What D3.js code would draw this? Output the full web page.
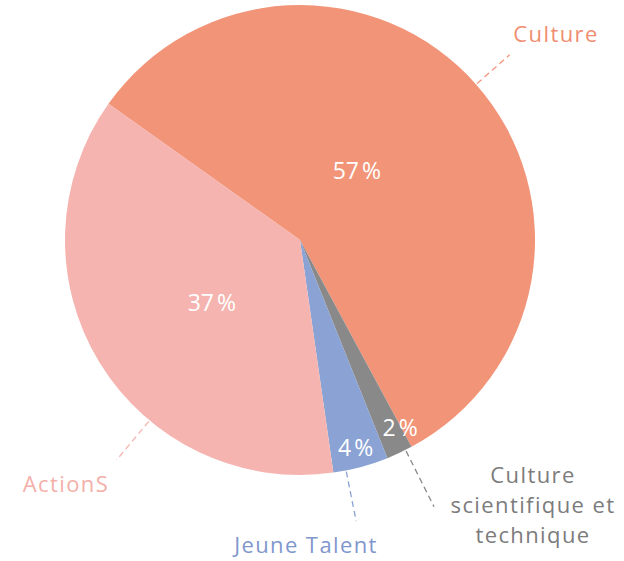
<!DOCTYPE html>
<html>
<head>
<meta charset="utf-8">
<script src="https://cdn.jsdelivr.net/npm/d3@7"></script>
<style>
  html, body { margin: 0; padding: 0; background: #fff; }
  svg { display: block; font-family: "Open Sans", Lato, sans-serif; }
</style>
</head>
<body>
<svg id="chart" width="624" height="561"></svg>
<script>
// data (share of total, %)
const categories = ["Culture", "Culture scientifique et technique", "Jeune Talent", "ActionS"];
const values = [57.3, 1.8, 3.8, 37.1];
const shownLabels = ["57\u202F%", "2\u202F%", "4\u202F%", "37\u202F%"];
const colors = ["#f29478", "#898989", "#8aa2d4", "#f5b4af"];
const textColors = ["#f08e72", "#7c7c7c", "#7f97cd", "#f4afa9"];

const svg = d3.select("#chart");
const cx = 300, cy = 240, r = 235;

const g = svg.append("g").attr("transform", `translate(${cx}, ${cy})`);

const startAngle = -54.6 * Math.PI / 180;
const pie = d3.pie()
    .sort(null)
    .startAngle(startAngle)
    .endAngle(startAngle + 2 * Math.PI)
    .value(d => d);

const arcs = pie(values);
const arc = d3.arc().innerRadius(0).outerRadius(r);

g.selectAll("path.slice")
    .data(arcs)
    .enter().append("path")
    .attr("class", "slice")
    .attr("d", arc)
    .attr("fill", (d, i) => colors[i]);

// percent labels: radius factor and angle nudge (deg) per slice
const pctPlace = [[0.38, -9], [0.905, -3], [0.915, 0], [0.46, -4]];
const polar = (a, rr) => [Math.sin(a) * rr, -Math.cos(a) * rr];
const mid = d => (d.startAngle + d.endAngle) / 2;

g.selectAll("text.pct")
    .data(arcs)
    .enter().append("text")
    .attr("class", "pct")
    .attr("transform", (d, i) => {
        const a = mid(d) + pctPlace[i][1] * Math.PI / 180;
        const [x, y] = polar(a, r * pctPlace[i][0]);
        return `translate(${x}, ${y})`;
    })
    .attr("text-anchor", "middle")
    .attr("dy", "0.36em")
    .attr("fill", "#fff")
    .style("font-size", "23px")
    .style("font-weight", 500)
    .style("letter-spacing", "0.5px")
    .text((d, i) => shownLabels[i]);

// leader lines: angle nudge (deg), outer radius factor
const leadPlace = [[0, 1.19], [-1.6, 1.27], [3.7, 1.22], [-18.8, 1.22]];
g.selectAll("line.lead")
    .data(arcs)
    .enter().append("line")
    .attr("class", "lead")
    .each(function (d, i) {
        const a = mid(d) + leadPlace[i][0] * Math.PI / 180;
        const [x1, y1] = polar(a, r * 1.005);
        const [x2, y2] = polar(a, r * leadPlace[i][1]);
        d3.select(this).attr("x1", x1).attr("y1", y1).attr("x2", x2).attr("y2", y2);
    })
    .attr("stroke", (d, i) => colors[i])
    .attr("stroke-width", 1.3)
    .attr("stroke-dasharray", "6,4");

// category labels
const catPos = [[256, -198], [233, 243], [6, 313], [-234, 252]];
const catLines = [["Culture"], ["Culture", "scientifique et", "technique"], ["Jeune Talent"], ["ActionS"]];
const cat = g.selectAll("text.cat")
    .data(arcs)
    .enter().append("text")
    .attr("class", "cat")
    .attr("text-anchor", "middle")
    .attr("fill", (d, i) => textColors[i])
    .style("font-size", "22px")
    .style("font-weight", 500)
    .style("letter-spacing", "1.4px")
    .attr("x", (d, i) => catPos[i][0])
    .attr("y", (d, i) => catPos[i][1]);

cat.selectAll("tspan")
    .data((d, i) => catLines[i].map(t => ({ t, i })))
    .enter().append("tspan")
    .attr("x", d => catPos[d.i][0])
    .attr("dy", (d, j) => j === 0 ? 0 : 30)
    .text(d => d.t);
</script>
</body>
</html>
